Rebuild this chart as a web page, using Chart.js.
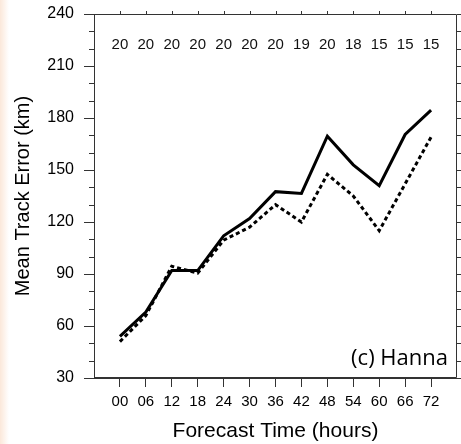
<!DOCTYPE html>
<html>
<head>
<meta charset="utf-8">
<script src="https://cdn.jsdelivr.net/npm/chart.js@4.4.1/dist/chart.umd.min.js"></script>
<style>
  html, body { margin: 0; padding: 0; }
  body { width: 461px; height: 444px; background: linear-gradient(to right, #fbe8da 0px, #fdf2ea 4px, #ffffff 9px); overflow: hidden; }
  #wrap { position: relative; width: 461px; height: 444px; }
</style>
</head>
<body>
<div id="wrap"><canvas id="c" width="461" height="444"></canvas></div>
<script>
const hours = [0, 6, 12, 18, 24, 30, 36, 42, 48, 54, 60, 66, 72];
const hourLabels = ["00", "06", "12", "18", "24", "30", "36", "42", "48", "54", "60", "66", "72"];
const caseCounts = [20, 20, 20, 20, 20, 20, 20, 19, 20, 18, 15, 15, 15];
const solidErrors = [54, 68, 92, 92, 112, 122, 137.5, 136.5, 169.5, 153, 141, 170.5, 184.5];
const dashedErrors = [51, 66, 94.5, 90.5, 109.5, 117, 130, 120, 147.5, 135, 115, 142, 169];
const yTicks = [30, 60, 90, 120, 150, 180, 210, 240];
const stormLabel = "(c) Hanna";

const axisColor = '#333';

const framePlugin = {
  id: 'frame',
  afterDraw(chart) {
    const { ctx, chartArea: a, scales: { x, y } } = chart;
    ctx.save();
    ctx.strokeStyle = axisColor;
    ctx.lineWidth = 1;
    ctx.beginPath();
    ctx.rect(Math.round(a.left) + 0.5, Math.round(a.top) + 0.5, Math.round(a.right - a.left) - 1, Math.round(a.bottom - a.top) - 1);
    ctx.stroke();
    ctx.beginPath();
    for (let v = 30; v <= 240; v += 10) {
      const py = Math.round(y.getPixelForValue(v)) + 0.5;
      if (v % 30 !== 0) {
        ctx.moveTo(a.left - 5, py); ctx.lineTo(a.left, py);
      }
      ctx.moveTo(a.right, py); ctx.lineTo(a.right + 4, py);
    }
    hours.forEach(h => {
      const px = Math.round(x.getPixelForValue(h)) + 0.5;
      ctx.moveTo(px, a.top); ctx.lineTo(px, a.top - 3);
    });
    ctx.stroke();
    ctx.fillStyle = '#111';
    ctx.font = '15px "Liberation Sans"';
    ctx.textAlign = 'center';
    ctx.textBaseline = 'middle';
    hours.forEach((h, i) => {
      ctx.fillText(String(caseCounts[i]), x.getPixelForValue(h), y.getPixelForValue(222));
    });
    ctx.fillStyle = '#000';
    ctx.font = '22px "Open Sans"';
    ctx.textAlign = 'right';
    ctx.textBaseline = 'alphabetic';
    ctx.fillText(stormLabel, a.right - 9, y.getPixelForValue(37.5));
    ctx.restore();
  }
};

new Chart(document.getElementById('c'), {
  type: 'line',
  data: {
    datasets: [
      {
        label: 'solid',
        data: hours.map((h, i) => ({ x: h, y: solidErrors[i] })),
        borderColor: '#000',
        borderWidth: 3,
        pointRadius: 0,
        fill: false,
        tension: 0
      },
      {
        label: 'dashed',
        data: hours.map((h, i) => ({ x: h, y: dashedErrors[i] })),
        borderColor: '#000',
        borderWidth: 3,
        borderDash: [4, 3],
        pointRadius: 0,
        fill: false,
        tension: 0
      }
    ]
  },
  options: {
    responsive: false,
    animation: false,
    devicePixelRatio: 1,
    layout: { padding: { left: 0, right: 4, top: 14, bottom: 0 } },
    plugins: { legend: { display: false }, tooltip: { enabled: false } },
    scales: {
      x: {
        type: 'linear',
        min: -6,
        max: 78,
        afterFit(s) { s.height = 66; s.paddingLeft = 0; s.paddingRight = 0; },
        afterBuildTicks(s) { s.ticks = [-6].concat(hours, [78]).map(v => ({ value: v })); },
        ticks: {
          autoSkip: false,
          maxRotation: 0,
          color: '#000',
          font: { family: 'Liberation Sans', size: 15 },
          padding: 6,
          callback(v) { const i = hours.indexOf(v); return i < 0 ? null : hourLabels[i]; }
        },
        grid: { drawOnChartArea: false, drawTicks: true, tickLength: 9, color: axisColor },
        border: { display: true, color: axisColor },
        title: { display: true, text: 'Forecast Time (hours)', color: '#000', font: { family: 'Liberation Sans', size: 21 }, padding: { top: 1, bottom: 0 } }
      },
      y: {
        min: 30,
        max: 240,
        afterFit(s) { s.width = 94; s.paddingTop = 0; s.paddingBottom = 0; },
        afterBuildTicks(s) { s.ticks = yTicks.map(v => ({ value: v })); },
        ticks: { color: '#000', font: { family: 'Liberation Sans', size: 16 }, padding: 10 },
        grid: { drawOnChartArea: false, drawTicks: true, tickLength: 10, color: axisColor },
        border: { display: true, color: axisColor },
        title: { display: true, text: 'Mean Track Error (km)', color: '#000', font: { family: 'Liberation Sans', size: 20 }, padding: { top: 11, bottom: 0 } }
      }
    }
  },
  plugins: [framePlugin]
});
</script>
</body>
</html>
